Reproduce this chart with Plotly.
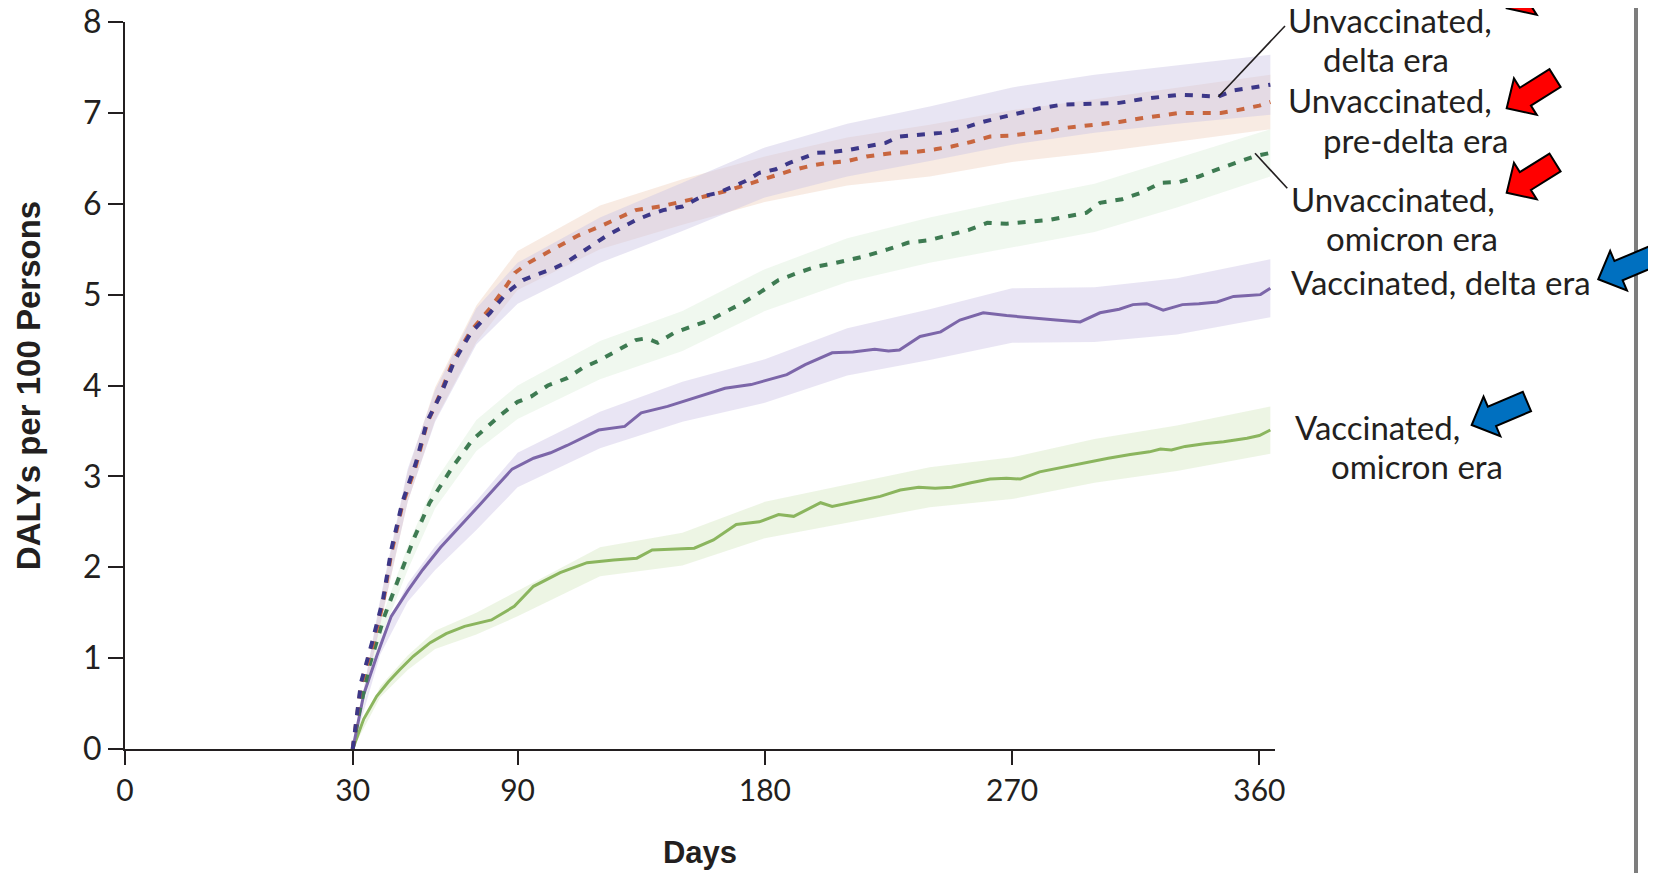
import math
import plotly.graph_objects as go

# ---------------- data ----------------
days_unvax_delta = [30, 33, 37, 41, 44, 48, 53, 57, 62, 67, 73, 80, 86, 92, 97, 104, 108, 115, 122, 128,
                    133, 138, 143, 150, 157, 163, 168, 173, 178, 184, 189, 194, 199, 205, 210, 217, 224,
                    229, 236, 244, 251, 258, 266, 273, 280, 288, 295, 302, 309, 317, 324, 331, 338, 345,
                    351, 357, 360, 364]
dalys_unvax_delta = [0, 0.73, 1.17, 1.64, 2.19, 2.71, 3.15, 3.6, 3.9, 4.27, 4.58, 4.8, 5.02, 5.16, 5.22,
                     5.3, 5.36, 5.5, 5.64, 5.74, 5.82, 5.88, 5.93, 5.97, 6.08, 6.12, 6.19, 6.25, 6.34,
                     6.38, 6.45, 6.5, 6.56, 6.57, 6.59, 6.63, 6.67, 6.74, 6.76, 6.78, 6.82, 6.89, 6.95,
                     7.0, 7.05, 7.09, 7.1, 7.11, 7.11, 7.15, 7.18, 7.2, 7.19, 7.18, 7.25, 7.27, 7.29, 7.31]

days_unvax_predelta = [30, 33, 37, 41, 44, 48, 53, 57, 62, 67, 73, 80, 86, 89, 94, 100, 106, 112, 120,
                       127, 133, 142, 150, 158, 166, 175, 183, 190, 197, 203, 210, 217, 227, 235, 242,
                       248, 255, 262, 269, 277, 283, 288, 295, 302, 309, 317, 324, 331, 338, 346, 352,
                       356, 360, 364]
dalys_unvax_predelta = [0, 0.7, 1.12, 1.6, 2.15, 2.68, 3.12, 3.58, 3.92, 4.3, 4.6, 4.85, 5.1, 5.24, 5.35,
                        5.45, 5.55, 5.65, 5.75, 5.85, 5.93, 5.97, 6.02, 6.08, 6.14, 6.23, 6.3, 6.37,
                        6.42, 6.45, 6.47, 6.52, 6.56, 6.57, 6.6, 6.63, 6.68, 6.74, 6.75, 6.78, 6.8,
                        6.83, 6.85, 6.87, 6.9, 6.94, 6.97, 7.0, 7.0, 7.0, 7.03, 7.05, 7.08, 7.12]

days_unvax_omicron = [30, 32, 36, 41.5, 47, 52.6, 58, 66.5, 73.5, 79, 84, 90, 95, 101, 108, 114, 120,
                      126, 133, 137, 141, 147, 153, 160, 165, 172, 178, 185, 192, 199, 206, 216, 225,
                      232, 240, 247, 254, 261, 268, 275, 283, 290, 297, 302, 310, 317, 324, 331, 338,
                      345, 351, 358, 364]
dalys_unvax_omicron = [0, 0.36, 0.91, 1.46, 1.9, 2.34, 2.71, 3.11, 3.4, 3.55, 3.68, 3.82, 3.88, 4.0,
                       4.08, 4.2, 4.28, 4.38, 4.5, 4.52, 4.47, 4.58, 4.65, 4.72, 4.8, 4.91, 5.02, 5.16,
                       5.24, 5.31, 5.35, 5.42, 5.5, 5.57, 5.6, 5.65, 5.71, 5.79, 5.78, 5.8, 5.82, 5.86,
                       5.9, 6.01, 6.05, 6.12, 6.23, 6.24, 6.3, 6.38, 6.45, 6.52, 6.56]

days_vax_delta = [30, 34, 38.7, 44, 50, 55.4, 62, 70.7, 76, 82, 88, 95.8, 102, 108, 114, 119.5, 129, 135,
                  144.6, 150, 155.7, 165.5, 175, 181, 188, 194.7, 204.5, 212, 220, 225, 229, 236.5, 244,
                  251, 259.5, 268, 277.7, 286, 294.8, 302, 309, 314, 319, 325, 332, 338, 344.6, 350.6,
                  356, 360.4, 364]
dalys_vax_delta = [0, 0.6, 1.02, 1.46, 1.74, 1.97, 2.22, 2.5, 2.68, 2.88, 3.08, 3.2, 3.26, 3.34, 3.43,
                   3.51, 3.55, 3.70, 3.77, 3.82, 3.88, 3.97, 4.01, 4.06, 4.12, 4.23, 4.36, 4.37, 4.4,
                   4.38, 4.39, 4.54, 4.59, 4.72, 4.8, 4.77, 4.74, 4.72, 4.70, 4.80, 4.84, 4.89, 4.90,
                   4.83, 4.89, 4.9, 4.92, 4.98, 4.99, 5.0, 5.07]

days_vax_omicron = [30, 34, 38.7, 43, 47, 52, 58.2, 64, 70.7, 80.5, 88.8, 95.8, 105.5, 115.3, 125, 133.4,
                    139, 147, 154.3, 161.3, 169.6, 178, 185, 190.5, 200.3, 204.5, 215.6, 222, 229.3, 236,
                    242, 248, 255, 262, 268, 273, 280, 288, 296, 305, 313, 320, 324, 328, 333, 340, 347,
                    355.5, 360, 364]
dalys_vax_omicron = [0, 0.33, 0.58, 0.74, 0.87, 1.02, 1.17, 1.27, 1.35, 1.42, 1.57, 1.79, 1.94, 2.05,
                     2.08, 2.1, 2.19, 2.2, 2.21, 2.3, 2.47, 2.5, 2.58, 2.56, 2.71, 2.67, 2.74, 2.78, 2.85,
                     2.88, 2.87, 2.88, 2.93, 2.97, 2.98, 2.97, 3.05, 3.1, 3.15, 3.2, 3.24, 3.27, 3.3,
                     3.29, 3.33, 3.36, 3.38, 3.42, 3.45, 3.51]

# confidence bands
band_days = [30, 40, 50, 60, 75, 90, 120, 150, 180, 210, 240, 270, 300, 330, 364]
unvax_delta_lo = [0, 1.38, 2.72, 3.6, 4.45, 4.9, 5.35, 5.7, 6.07, 6.3, 6.47, 6.65, 6.78, 6.88, 6.98]
unvax_delta_hi = [0, 1.65, 3.08, 3.95, 4.85, 5.35, 5.85, 6.23, 6.62, 6.88, 7.07, 7.28, 7.42, 7.52, 7.64]
unvax_predelta_lo = [0, 1.36, 2.72, 3.62, 4.48, 5.05, 5.5, 5.77, 6.02, 6.2, 6.3, 6.46, 6.56, 6.68, 6.82]
unvax_predelta_hi = [0, 1.62, 3.05, 3.98, 4.88, 5.48, 5.98, 6.27, 6.52, 6.73, 6.87, 7.03, 7.15, 7.28, 7.42]
unvax_omicron_lo = [0, 1.2, 1.97, 2.65, 3.28, 3.63, 4.07, 4.38, 4.82, 5.14, 5.35, 5.52, 5.69, 5.96, 6.3]
unvax_omicron_hi = [0, 1.4, 2.23, 2.95, 3.62, 4.0, 4.49, 4.82, 5.28, 5.62, 5.85, 6.04, 6.22, 6.5, 6.82]
vax_delta_lo = [0, 1.04, 1.62, 1.97, 2.41, 2.88, 3.31, 3.6, 3.81, 4.11, 4.28, 4.47, 4.48, 4.56, 4.75]
vax_delta_hi = [0, 1.2, 1.82, 2.23, 2.73, 3.26, 3.71, 4.04, 4.29, 4.63, 4.84, 5.07, 5.08, 5.18, 5.39]
vax_omicron_lo = [0, 0.57, 0.87, 1.1, 1.26, 1.46, 1.9, 2.02, 2.32, 2.49, 2.66, 2.75, 2.93, 3.06, 3.25]
vax_omicron_hi = [0, 0.69, 1.03, 1.3, 1.5, 1.74, 2.22, 2.38, 2.72, 2.91, 3.1, 3.21, 3.41, 3.56, 3.77]

# axis ticks (the 0 tick sits at a broken-axis position left of 30)
x_tick_vals = [30, 90, 180, 270, 360]
x_tick_labels = ["30", "90", "180", "270", "360"]
X_ORIGIN_POS = -52.9
y_tick_vals = [0, 1, 2, 3, 4, 5, 6, 7, 8]

# ---------------- layout geometry (pixels) ----------------
W, H = 1656, 873
PAGE = 8                      # browser body margin
L, R, T, B = 117, 389, 14, 132
PW, PH = W - L - R, H - T - B


def px(xp):                   # page pixel -> paper x
    return (xp - PAGE - L) / PW


def py(yp):                   # page pixel -> paper y
    return (H - B - (yp - PAGE)) / PH


fig = go.Figure()

bands = [
    (vax_omicron_lo, vax_omicron_hi, "rgba(214,232,196,0.45)"),
    (vax_delta_lo, vax_delta_hi, "rgba(206,198,230,0.45)"),
    (unvax_omicron_lo, unvax_omicron_hi, "rgba(218,238,216,0.4)"),
    (unvax_predelta_lo, unvax_predelta_hi, "rgba(240,210,194,0.45)"),
    (unvax_delta_lo, unvax_delta_hi, "rgba(204,198,228,0.45)"),
]
for lo, hi, col in bands:
    fig.add_trace(go.Scatter(x=band_days + band_days[::-1], y=hi + lo[::-1], mode="lines",
                             fill="toself", fillcolor=col, line=dict(width=0),
                             hoverinfo="skip", showlegend=False))

lines = [
    (days_vax_omicron, dalys_vax_omicron, "#8bb55e", "solid", 3, "Vaccinated, omicron era"),
    (days_vax_delta, dalys_vax_delta, "#7c66a9", "solid", 3, "Vaccinated, delta era"),
    (days_unvax_omicron, dalys_unvax_omicron, "#3e7b52", "8px,9px", 4, "Unvaccinated, omicron era"),
    (days_unvax_predelta, dalys_unvax_predelta, "#c8663f", "8px,9px", 4, "Unvaccinated, pre-delta era"),
    (days_unvax_delta, dalys_unvax_delta, "#3c3788", "8px,9px", 4, "Unvaccinated, delta era"),
]
for xs, ys, col, dash, w, name in lines:
    fig.add_trace(go.Scatter(x=xs, y=ys, mode="lines", name=name,
                             line=dict(color=col, width=w, dash=dash), showlegend=False))

# ---------------- right-hand labels ----------------
label_font = dict(family="Lato", size=33, color="#231f20")
label_lines = [
    ("Unvaccinated,", 1288, 33), ("delta era", 1323, 72),
    ("Unvaccinated,", 1288, 113), ("pre-delta era", 1323, 153),
    ("Unvaccinated,", 1291, 212), ("omicron era", 1326, 251),
    ("Vaccinated, delta era", 1291, 295),
    ("Vaccinated,", 1295, 440), ("omicron era", 1331, 479),
]
annotations = []
for txt, xl, base in label_lines:
    annotations.append(dict(text=txt, x=px(xl - 2), y=py(base - 13), xref="paper", yref="paper",
                            xanchor="left", yanchor="middle", showarrow=False, font=label_font))

shapes = []
# leader lines
for (x0, y0, x1, y1) in [(1285, 26, 1218.3, 96.7), (1255, 153.3, 1287.3, 188.3)]:
    shapes.append(dict(type="line", xref="paper", yref="paper", x0=px(x0), y0=py(y0),
                       x1=px(x1), y1=py(y1), line=dict(color="#231f20", width=1.6)))

# frame line at right
shapes.append(dict(type="line", xref="paper", yref="paper", x0=px(1636), x1=px(1636),
                   y0=py(H + 10), y1=py(-10), line=dict(color="#7d7d7d", width=4)))


def arrow_path(tx, ty, ang, length, head_len, head_w, shaft_w):
    a = math.radians(ang)
    ux, uy = math.cos(a), -math.sin(a)
    nx, ny = math.sin(a), math.cos(a)
    hx, hy = tx + head_len * ux, ty + head_len * uy
    ex, ey = tx + length * ux, ty + length * uy
    pts = [(tx, ty),
           (hx + head_w / 2 * nx, hy + head_w / 2 * ny),
           (hx + shaft_w / 2 * nx, hy + shaft_w / 2 * ny),
           (ex + shaft_w / 2 * nx, ey + shaft_w / 2 * ny),
           (ex - shaft_w / 2 * nx, ey - shaft_w / 2 * ny),
           (hx - shaft_w / 2 * nx, hy - shaft_w / 2 * ny),
           (hx - head_w / 2 * nx, hy - head_w / 2 * ny)]
    return "M " + " L ".join(f"{px(x):.5f},{py(y):.5f}" for x, y in pts) + " Z"


for tx, ty in [(1506.7, 8.3), (1506.7, 108.3), (1506.7, 192.7)]:
    shapes.append(dict(type="path", xref="paper", yref="paper",
                       path=arrow_path(tx, ty, 32, 57, 22, 43, 21),
                       fillcolor="#ff0000", line=dict(color="#000000", width=2)))
for tx, ty in [(1598.3, 279.3), (1471.7, 425)]:
    shapes.append(dict(type="path", xref="paper", yref="paper",
                       path=arrow_path(tx, ty, 23, 60, 22, 43, 21),
                       fillcolor="#0070c0", line=dict(color="#000000", width=2)))

fig.update_layout(
    width=W, height=H, autosize=False,
    margin=dict(l=L, r=R, t=T, b=B, autoexpand=False),
    paper_bgcolor="white", plot_bgcolor="white",
    showlegend=False,
    annotations=annotations, shapes=shapes,
    xaxis=dict(range=[X_ORIGIN_POS, 365.7],
               tickvals=[X_ORIGIN_POS] + x_tick_vals, ticktext=["0"] + x_tick_labels,
               ticks="outside", ticklen=14, tickwidth=2, tickcolor="#231f20",
               showline=True, linecolor="#231f20", linewidth=2,
               showgrid=False, zeroline=False, automargin=False,
               tickfont=dict(family="Lato", size=30, color="#231f20"),
               title=dict(text="<b>Days</b>", standoff=35,
                          font=dict(family="Liberation Sans", size=31, color="#231f20"))),
    yaxis=dict(range=[0, 8], tickvals=y_tick_vals,
               ticks="outside", ticklen=15, tickwidth=2, tickcolor="#231f20",
               showline=True, linecolor="#231f20", linewidth=2,
               showgrid=False, zeroline=False, automargin=False,
               ticklabeloverflow="allow",
               tickfont=dict(family="Lato", size=32, color="#231f20"),
               title=dict(text="<b>DALYs per 100 Persons</b>", standoff=32,
                          font=dict(family="Liberation Sans", size=33, color="#231f20"))),
)

fig.write_html("out.html")
